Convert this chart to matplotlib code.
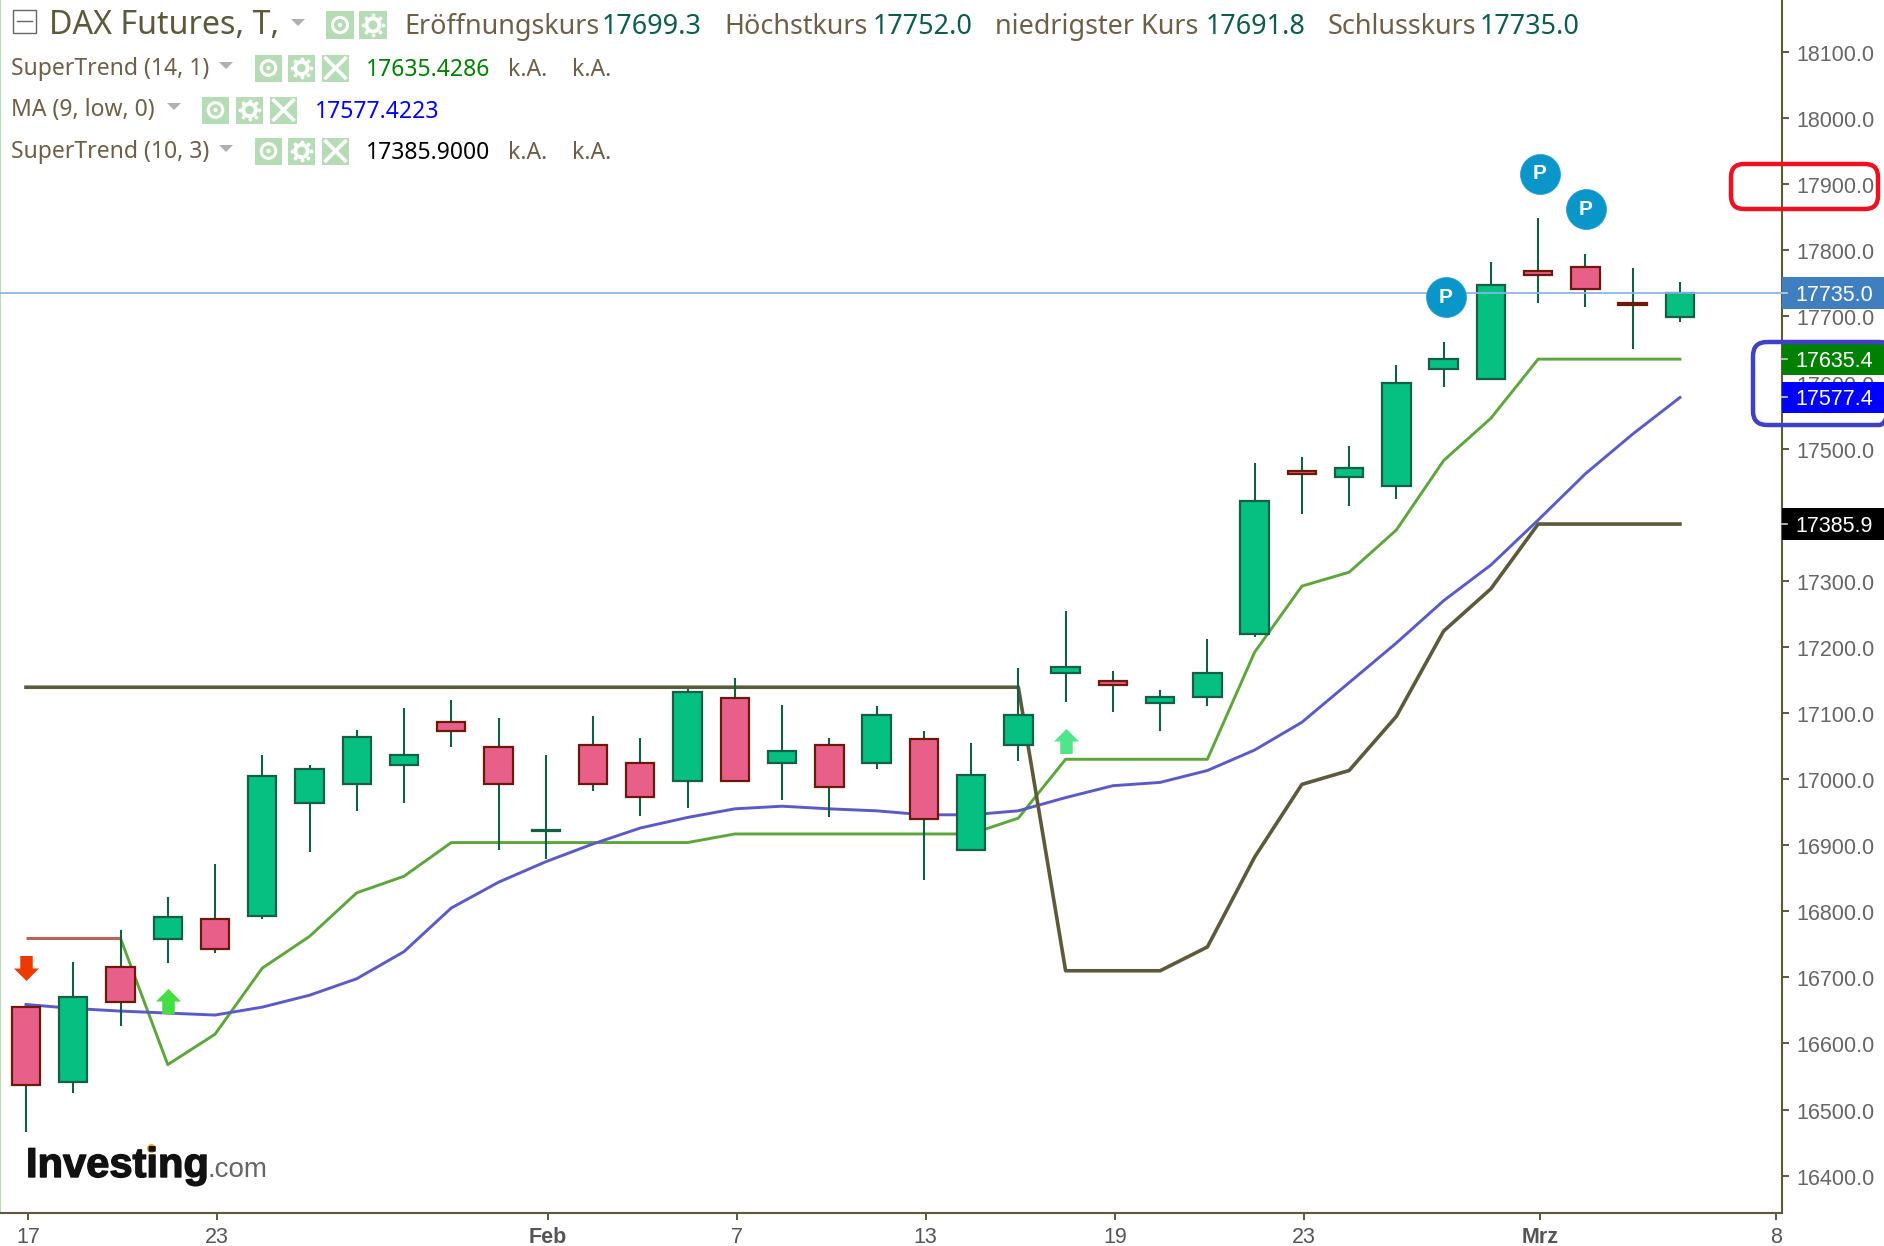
import matplotlib
matplotlib.use("Agg")
import matplotlib.pyplot as plt
import matplotlib.patheffects as pe
import matplotlib.transforms as mtransforms
import numpy as np
from matplotlib.patches import Rectangle, FancyBboxPatch, Circle
from matplotlib.path import Path

W, H = 1884, 1246
AXIS_RIGHT, AXIS_BOTTOM = 1782, 1213

opens = [16655, 16542, 16716, 16758, 16789, 16793, 16964, 16993, 17022, 17086, 17048, 16921,
         17052, 17024, 16997, 17122, 17024, 17052, 17024, 17061, 16892, 17052, 17161, 17148,
         17115, 17124, 17219, 17466, 17457, 17444, 17621, 17605, 17769, 17775, 17720, 17699.3]
highs = [16655, 16723, 16772, 16821, 16872, 17037, 17022, 17075, 17108, 17119, 17092, 17037,
         17095, 17062, 17137, 17153, 17112, 17062, 17110, 17073, 17055, 17168, 17255, 17164,
         17135, 17212, 17479, 17488, 17504, 17626, 17661, 17782, 17849, 17794, 17773, 17752]
lows = [16466, 16525, 16627, 16722, 16737, 16788, 16890, 16952, 16964, 17048, 16892, 16879,
        16982, 16944, 16957, 16997, 16968, 16942, 17015, 16848, 16892, 17028, 17117, 17102,
        17073, 17110, 17215, 17401, 17413, 17424, 17593, 17605, 17720, 17714, 17651, 17691.8]
closes = [16537, 16670, 16663, 16792, 16743, 17004, 17015, 17064, 17037, 17073, 16993, 16923,
          16993, 16973, 17132, 16997, 17042, 16988, 17097, 16939, 17006, 17097, 17170, 17142,
          17124, 17161, 17421, 17461, 17470, 17599, 17636, 17748, 17763, 17742, 17718, 17735]

# red stretch of the fast supertrend, then the green one from candle 2
st14_red = [16759, 16759, 16759]
st14 = [16759, 16568, 16614, 16714, 16762, 16828, 16853, 16904, 16904, 16904, 16904, 16904, 16904,
        16917, 16917, 16917, 16917, 16917, 16917, 16941, 17030, 17030, 17030, 17030, 17192, 17292,
        17313, 17377, 17482, 17546, 17635.4, 17635.4, 17635.4, 17635.4]
ma9 = [16659, 16653, 16649, 16646, 16643, 16655, 16673, 16698, 16739, 16805, 16844, 16875,
       16902, 16926, 16942, 16955, 16959, 16955, 16952, 16946, 16946, 16952, 16972, 16990,
       16995, 17013, 17044, 17086, 17146, 17206, 17270, 17324, 17392, 17462, 17522, 17577.4]
st10 = [17139] * 22 + [16710, 16710, 16710, 16746, 16882, 16992, 17013, 17095, 17224, 17288,
                       17385.9, 17385.9, 17385.9, 17385.9]

y_ticks = [16400, 16500, 16600, 16700, 16800, 16900, 17000, 17100, 17200, 17300, 17400, 17500,
           17600, 17700, 17800, 17900, 18000, 18100]
x_ticks = [0.04, 4.04, 11.04, 15.04, 19.04, 23.04, 27.04, 32.04, 37.04]
x_labels = ["17", "23", "Feb", "7", "13", "19", "23", "Mrz", "8"]

badge_prices = [17735.0, 17635.4, 17577.4, 17385.9]
badge_colors = ["#3f7fbf", "#008000", "#0000ff", "#000000"]

pivot_x = [30.04, 32.03, 33.01]
pivot_y = [17729, 17916, 17862]

AXIS_COL = "#5d5a3c"
TEXT_COL = "#6e6048"
ICON_COL = "#b5dcb5"

fig = plt.figure(figsize=(W / 100, H / 100), dpi=100)
ax = fig.add_axes([0, (H - AXIS_BOTTOM) / H, AXIS_RIGHT / W, AXIS_BOTTOM / H])
ax.set_xlim(-0.55, 37.16)
ax.set_ylim(16343.5, 18178.8)

ax.spines["top"].set_visible(False)
ax.spines["left"].set_color(ICON_COL)
ax.spines["right"].set_color(AXIS_COL)
ax.spines["bottom"].set_color(AXIS_COL)
ax.spines["right"].set_linewidth(1.5)
ax.spines["bottom"].set_linewidth(1.5)

ax.yaxis.tick_right()
ax.set_yticks(y_ticks)
ax.set_yticklabels(["%.1f" % v for v in y_ticks], family="Liberation Sans", fontsize=15.5, color="#666666")
ax.tick_params(axis="y", length=5, width=1.4, color=AXIS_COL, pad=5.5)
# labels sit a hair under their ticks
nudge = mtransforms.ScaledTranslation(0, -1 / 100, fig.dpi_scale_trans)
for lab in ax.get_yticklabels():
    lab.set_transform(lab.get_transform() + nudge)
ax.set_xticks(x_ticks)
ax.set_xticklabels(x_labels, family="Liberation Sans", fontsize=15.5, color="#555555")
ax.tick_params(axis="x", length=5, width=1.4, color=AXIS_COL, pad=5)
for lab in ax.get_xticklabels():
    if lab.get_text() in ("Feb", "Mrz"):
        lab.set_fontweight("bold")

# indicators go under the candles
xs = np.arange(len(opens))
ax.plot(xs[:3], st14_red, color="#c0605a", lw=2.2, zorder=2, solid_capstyle="butt")
ax.plot(xs[2:], st14, color="#5da63c", lw=2.1, zorder=2)
ax.plot(xs, ma9, color="#5a5ac8", lw=2.1, zorder=2)
ax.plot(xs, st10, color=AXIS_COL, lw=2.6, zorder=2)

o = np.array(opens)
c = np.array(closes)
up = c >= o
ax.vlines(xs, lows, highs, color="#115e43", lw=1.5, zorder=2.9)
ax.bar(xs[up], (c - o)[up], bottom=o[up], width=0.6, color="#05c080", edgecolor="#135f48", lw=1.6, zorder=3)
ax.bar(xs[~up], (o - c)[~up], bottom=c[~up], width=0.6, color="#e8608a", edgecolor="#6b1a0a", lw=1.6, zorder=3)

ax.axhline(17735, color="#8ab4e8", lw=1.4, alpha=0.9, zorder=3.5)

# signal arrows
arrow_up = Path([(-0.5, 0), (0, 0.5), (0.5, 0), (0.25, 0), (0.25, -0.5), (-0.25, -0.5), (-0.25, 0), (-0.5, 0)], closed=True)
arrow_down = Path([(-0.5, 0), (0, -0.5), (0.5, 0), (0.25, 0), (0.25, 0.5), (-0.25, 0.5), (-0.25, 0), (-0.5, 0)], closed=True)
ax.plot([0], [16714], marker=arrow_down, ms=18, color="#ee3a00", mec="none", zorder=4, ls="none")
ax.plot([3], [16664], marker=arrow_up, ms=18, color="#44dd44", mec="none", zorder=4, ls="none")
ax.plot([22], [17058], marker=arrow_up, ms=18, color="#50e58a", mec="none", zorder=4, ls="none")

ax.scatter(pivot_x, pivot_y, s=830, color="#0a96c8", edgecolor="#2a9ad8", lw=0.5, zorder=5)
for px_, py_ in zip(pivot_x, pivot_y):
    ax.text(px_, py_, "P", color="white", fontsize=15, fontweight="bold", family="Liberation Sans",
            ha="center", va="center", zorder=6)

# price badges on the axis
badge_h = 48
badge_w = (W - AXIS_RIGHT) / AXIS_RIGHT
ytrans = ax.get_yaxis_transform()
for price, col in zip(badge_prices, badge_colors):
    ax.add_patch(Rectangle((1, price - badge_h / 2), badge_w, badge_h, transform=ytrans, color=col,
                           clip_on=False, zorder=10, lw=0))
    ax.plot([1, 1 + 5 / AXIS_RIGHT], [price, price], transform=ytrans, color="#cccccc", lw=1.2,
            clip_on=False, zorder=11)
    ax.text(1 + 13 / AXIS_RIGHT, price, "%.1f" % price, transform=ytrans, color="white", fontsize=15.5,
            family="Liberation Sans", va="center_baseline", ha="left", zorder=11, clip_on=False)

# everything else lives in pixel space on an overlay
ov = fig.add_axes([0, 0, 1, 1], zorder=20)
ov.set_xlim(0, W)
ov.set_ylim(H, 0)
ov.axis("off")
ov.patch.set_alpha(0)

ov.add_patch(FancyBboxPatch((1731, 164), 147, 45, boxstyle="round,pad=0,rounding_size=13",
                            fc="none", ec="#f01020", lw=3.2))
ov.add_patch(FancyBboxPatch((1753, 342), 140, 83, boxstyle="round,pad=0,rounding_size=14",
                            fc="none", ec="#4040c8", lw=3.2))


def put(x, y, s, color=TEXT_COL, size=16.5):
    ov.text(x, y, s, color=color, fontsize=size, family="Noto Sans", va="center", ha="left")


def drop(x, y):
    ov.fill([x - 7, x + 7, x], [y - 3, y - 3, y + 4], color="#b0b0b0", lw=0)


def icon(x, y, kind, size=27):
    ov.add_patch(Rectangle((x, y - size / 2), size, size, color=ICON_COL, lw=0))
    cx, cy = x + size / 2, y
    if kind == "eye":
        ov.add_patch(Circle((cx, cy), size * 0.27, fc="none", ec="white", lw=2.2))
        ov.add_patch(Circle((cx, cy), size * 0.08, fc="white", ec="none"))
    elif kind == "gear":
        ov.add_patch(Circle((cx, cy), size * 0.23, fc="none", ec="white", lw=2.8))
        ang = np.arange(8) * np.pi / 4
        ov.scatter(cx + size * 0.35 * np.cos(ang), cy + size * 0.35 * np.sin(ang), s=8, color="white", lw=0)
    else:
        r = size * 0.36
        ov.plot([cx - r, cx + r], [cy - r, cy + r], color="white", lw=2.6)
        ov.plot([cx - r, cx + r], [cy + r, cy - r], color="white", lw=2.6)


# header row
ov.add_patch(Rectangle((13, 10), 23, 23, fc="white", ec="#666666", lw=1))
ov.plot([17, 32], [21, 21], color="#666666", lw=1)
put(49, 26, "DAX Futures, T,", color=AXIS_COL, size=23.2)
drop(298, 22)
icon(326, 25, "eye", 28)
icon(359, 25, "gear", 28)
VAL_COL = "#0d5c4d"
HEAD = 19.4
put(404, 27, "Eröffnungskurs", size=HEAD)
put(602, 27, "17699.3", VAL_COL, HEAD)
put(724, 27, "Höchstkurs", size=HEAD)
put(873, 27, "17752.0", VAL_COL, HEAD)
put(995, 27, "niedrigster Kurs", size=HEAD)
put(1206, 27, "17691.8", VAL_COL, HEAD)
put(1328, 27, "Schlusskurs", size=HEAD)
put(1480, 27, "17735.0", VAL_COL, HEAD)

# indicator rows
put(11, 69, "SuperTrend (14, 1)")
drop(226, 65)
for x, kind in zip([255, 288, 322], ["eye", "gear", "x"]):
    icon(x, 68, kind)
put(366, 70, "17635.4286", "#008000")
put(508, 70, "k.A.")
put(572, 70, "k.A.")

put(11, 110, "MA (9, low, 0)")
drop(174, 106)
for x, kind in zip([202, 236, 270], ["eye", "gear", "x"]):
    icon(x, 110, kind)
put(315, 112, "17577.4223", "#0000ff")

put(11, 152, "SuperTrend (10, 3)")
drop(226, 148)
for x, kind in zip([255, 288, 322], ["eye", "gear", "x"]):
    icon(x, 151, kind)
put(366, 153, "17385.9000", "#000000")
put(508, 153, "k.A.")
put(572, 153, "k.A.")

# logo
logo = ov.text(26, 1166, "Investing", color="#111111", fontsize=30, fontweight="bold", family="Liberation Sans",
               va="center", ha="left")
logo.set_path_effects([pe.withStroke(linewidth=1, foreground="#111111")])
ov.text(207, 1170, ".com", color="#666666", fontsize=20, family="Liberation Sans", va="center", ha="left")
ov.scatter([151], [1148], s=40, color="#f0a020", lw=0)

fig.savefig("out.png", dpi=100)
